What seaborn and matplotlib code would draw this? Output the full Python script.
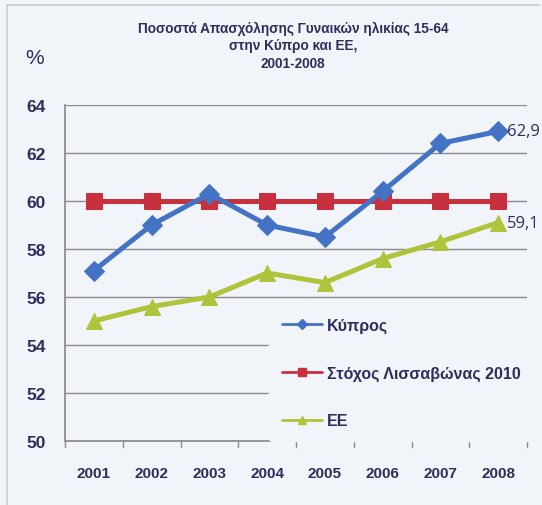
import matplotlib
matplotlib.use("Agg")
import matplotlib.pyplot as plt
import seaborn as sns
import pandas as pd
from matplotlib.lines import Line2D

years = ["2001", "2002", "2003", "2004", "2005", "2006", "2007", "2008"]
cyprus = [57.1, 59.0, 60.3, 59.0, 58.5, 60.4, 62.4, 62.9]
target = [60.0, 60.0, 60.0, 60.0, 60.0, 60.0, 60.0, 60.0]
eu = [55.0, 55.6, 56.0, 57.0, 56.6, 57.6, 58.3, 59.1]
series_names = ["Κύπρος", "Στόχος Λισσαβώνας 2010", "ΕΕ"]
yticks = [50, 52, 54, 56, 58, 60, 62, 64]
title = "Ποσοστά Απασχόλησης Γυναικών ηλικίας 15-64\nστην Κύπρο και ΕΕ,\n2001-2008"
end_labels = ["62,9", "59,1"]

sns.set_theme(style="white")
plt.rcParams['font.family'] = ['Liberation Sans', 'DejaVu Sans']

bg = "#f1f4f9"
txt = "#2e2e5c"
colors = ["#4472c4", "#c9303e", "#aec43a"]
markers = ["D", "s", "^"]
msizes = [10, 12, 11]

rows = []
for name, vals in zip(series_names, [cyprus, target, eu]):
    for i, v in enumerate(vals):
        rows.append({"idx": i, "val": v, "series": name})
df = pd.DataFrame(rows)

fig = plt.figure(figsize=(5.42, 5.06), dpi=100, facecolor=bg)
ax = fig.add_axes([65/542, 1-442/506, 462/542, 336/506])
ax.set_facecolor(bg)

# frame border of the picture
fig.add_artist(Line2D([7/542, 7/542], [0, 1-6/506], color="#c8ccd4", lw=1.2))
fig.add_artist(Line2D([7/542, 540/542], [1-6/506, 1-6/506], color="#c8ccd4", lw=1.2))

order = [1, 0, 2]
for k in order:
    name = series_names[k]
    sub = df[df.series == name]
    sns.lineplot(data=sub, x="idx", y="val", ax=ax, color=colors[k], lw=3.6,
                 marker=markers[k], markersize=msizes[k], markeredgecolor=colors[k],
                 label=name, zorder=3 if k != 1 else 2, legend=False)

ax.set_xlim(-0.5, 7.5)
ax.set_ylim(50, 64)
ax.set_yticks(yticks)
ax.set_yticklabels([str(t) for t in yticks], fontweight="bold", fontsize=12.5, color=txt)
ax.set_xticks(range(len(years)))
ax.set_xticklabels(years, fontweight="bold", fontsize=11, color=txt)
ax.set_xlabel("")
ax.set_ylabel("")
ax.yaxis.grid(True, color="#8c8c8c", lw=1)
ax.set_axisbelow(True)
for s in ["top", "right"]:
    ax.spines[s].set_visible(False)
ax.spines["left"].set_color("#8c8c8c")
ax.spines["bottom"].set_color("#8c8c8c")
ax.tick_params(axis="y", length=0, pad=14)
ax.tick_params(axis="x", length=0, pad=18)
for b in [i - 0.5 for i in range(len(years) + 1)]:
    ax.plot([b, b], [50, 49.75], color="#8c8c8c", lw=1, clip_on=False)

ax.text(7.15, cyprus[-1], end_labels[0], fontsize=12, color=txt, va="center",
        ha="left", family=["Open Sans", "DejaVu Sans"], clip_on=False)
ax.text(7.15, eu[-1], end_labels[1], fontsize=12, color=txt, va="center",
        ha="left", family=["Open Sans", "DejaVu Sans"], clip_on=False)

handles = [Line2D([], [], color=colors[k], lw=2.0, marker=markers[k], markersize=5.5,
                  markeredgecolor=colors[k]) for k in range(3)]
leg = ax.legend(handles, series_names, loc="upper left", bbox_to_anchor=(0.425, 0.43),
                frameon=True, facecolor=bg, edgecolor=bg, framealpha=1,
                prop={"weight": "bold", "size": 11.5}, labelspacing=2.05,
                handlelength=2.5, handletextpad=0.3, borderpad=0.8)
for t in leg.get_texts():
    t.set_color(txt)
leg.set_zorder(2.5)

fig.text(293/542, 1-22/506, title, ha="center", va="top", fontsize=9.8,
         fontweight="bold", color=txt, linespacing=1.3)
fig.text(25/542, 1-58/506, "%", ha="left", va="center", fontsize=15, color=txt)

fig.savefig("out.png", dpi=100, facecolor=bg)
